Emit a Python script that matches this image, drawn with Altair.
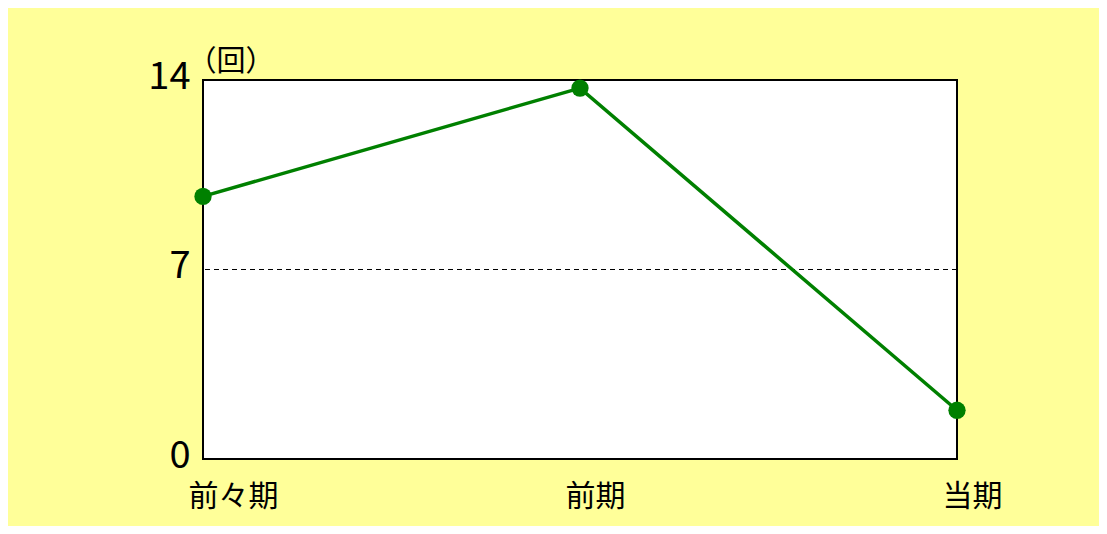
import altair as alt
import pandas as pd

periods = ["前々期", "前期", "当期"]
counts = [9.7, 13.7, 1.8]
y_ticks = [0, 7, 14]
mid_line = [7]

FONT = "Noto Sans CJK JP"
GREEN = "#008000"

df = pd.DataFrame({"period": periods, "count": counts})
df_rule = pd.DataFrame({"v": mid_line})

x_enc = alt.X(
    "period:N",
    sort=periods,
    scale=alt.Scale(padding=0),
    axis=alt.Axis(
        title=None,
        labelAngle=0,
        labelAlign="left",
        labelOffset=-15,
        labelBaseline="top",
        labelPadding=22,
        labelFontSize=30,
        labelFont=FONT,
        labelColor="black",
        ticks=False,
        domain=False,
        grid=False,
    ),
)
y_enc = alt.Y(
    "count:Q",
    scale=alt.Scale(domain=[0, 14], nice=False, zero=True),
    axis=alt.Axis(
        values=y_ticks,
        title="（回）",
        titleAngle=0,
        titleAlign="left",
        titleBaseline="middle",
        titleX=-16,
        titleY=-19,
        titleFont=FONT,
        titleFontSize=29,
        titleFontWeight="normal",
        titleColor="black",
        labelFont=FONT,
        labelFontSize=38,
        labelColor="black",
        labelPadding=13,
        labelBaseline="middle",
        labelOffset=-3,
        ticks=False,
        domain=False,
        grid=False,
    ),
)

line = alt.Chart(df).mark_line(color=GREEN, strokeWidth=3.5).encode(x=x_enc, y=y_enc)
pts = alt.Chart(df).mark_point(filled=True, color=GREEN, size=300, opacity=1).encode(
    x=alt.X("period:N", sort=periods), y=alt.Y("count:Q")
)
rule = alt.Chart(df_rule).mark_rule(color="black", strokeWidth=1, strokeDash=[5, 4]).encode(
    y=alt.Y("v:Q")
)

chart = (
    alt.layer(rule, line, pts)
    .properties(
        width=754,
        height=379,
        background="#FFFF99",
        padding={"left": 195, "top": 72, "right": 142, "bottom": 67},
        autosize=alt.AutoSizeParams(type="none"),
    )
    .configure_view(fill="white", stroke="black", strokeWidth=2)
)

chart.save("out.html", embed_options={"renderer": "svg", "actions": False})
